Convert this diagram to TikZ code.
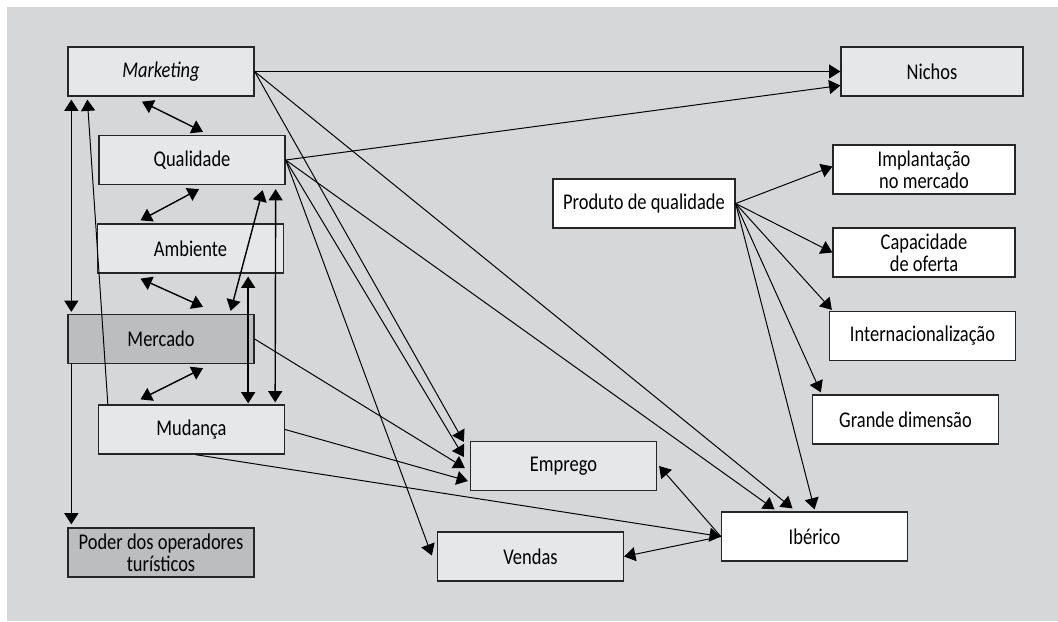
\documentclass[tikz,border=0pt]{standalone}
\usepackage{fontspec}
\setmainfont[FakeStretch=0.82]{Carlito}
\usetikzlibrary{arrows.meta}

\definecolor{cinzafundo}{HTML}{D6D7D9}
\definecolor{cinzaclaro}{HTML}{E6E7E8}
\definecolor{cinzaescuro}{HTML}{BCBDBF}

\tikzset{
  caixa/.style={draw=black!85, line width=0.9pt, minimum width=4.65cm, minimum height=1.225cm,
    inner sep=0pt, align=center, font=\fontsize{16}{15.5}\selectfont},
  clara/.style={caixa, fill=cinzaclaro},
  escura/.style={caixa, fill=cinzaescuro},
  branca/.style={caixa, fill=white},
  estreita/.style={minimum width=4.55cm},
  seta/.style={-{Triangle[length=8pt,width=10pt]}, line width=0.7pt},
  dupla/.style={{Triangle[length=8pt,width=10pt]}-{Triangle[length=8pt,width=10pt]}, line width=1pt}
}

\begin{document}
\begin{tikzpicture}[x=0.025cm, y=-0.025cm]
  \useasboundingbox (0,0) rectangle (1058,621);
  \fill[cinzafundo] (7,7) rectangle (1058,621);

  \node[clara] (mkt) at (161,71.5) {\itshape Marketing};
  \node[clara] (qual) at (192,160) {Qualidade};
  \node[clara] (amb) at (190.5,248.5) {Ambiente};
  \node[escura] (merc) at (161,339) {Mercado};
  \node[clara] (mud) at (191.5,429.5) {Mudança};
  \node[escura] (poder) at (161,552.5) {Poder dos operadores\\turísticos};
  \node[clara] (emp) at (563.5,466) {Emprego};
  \node[clara] (vend) at (530.5,556.5) {Vendas};
  \node[branca] (iber) at (814.5,536.5) {Ibérico};
  \node[clara, estreita] (nichos) at (932,71.5) {Nichos};
  \node[branca, estreita] (prod) at (644,203.5) {Produto de qualidade};
  \node[branca, estreita] (impl) at (924,169.5) {Implantação\\no mercado};
  \node[branca, estreita] (capac) at (924,252.5) {Capacidade\\de oferta};
  \node[branca] (inter) at (922.5,336) {Internacionalização};
  \node[branca] (grande) at (905.5,419.5) {Grande dimensão};

  \draw[dupla] ([shift={(-19,5)}]mkt.south) -- ([shift={(11,-3)}]qual.north);
  \draw[dupla] ([shift={(7,4)}]qual.south) -- ([shift={(-50,-3)}]amb.north);
  \draw[dupla] ([shift={(-50,5)}]amb.south) -- ([shift={(42,-7)}]merc.north);
  \draw[dupla] ([shift={(42,4)}]merc.south) -- ([shift={(-51,-5)}]mud.north);
  \draw[dupla] ([shift={(4,3)}]mkt.south west) -- ([shift={(4,-2)}]merc.north west);
  \draw[seta] ([shift={(10,0)}]mud.north west) -- ([shift={(20,3)}]mkt.south west);
  \draw[seta, line width=1pt] ([shift={(4,0)}]merc.south west) -- ([shift={(4,-3)}]poder.north west);
  \draw[dupla] ([shift={(-24,-3)}]merc.north east) -- ([shift={(-23,5)}]qual.south east);
  \draw[dupla] ([shift={(-36,3)}]amb.south east) -- ([shift={(-37,-1)}]mud.north east);
  \draw[dupla] ([shift={(-10,4)}]qual.south east) -- ([shift={(-10,-2)}]mud.north east);

  \draw[seta] (mkt.east) -- (nichos.west);
  \draw[seta] (qual.east) -- ([shift={(0,14)}]nichos.west);
  \draw[seta] (mkt.east) -- ([shift={(-6,1)}]emp.north west);
  \draw[seta] (qual.east) -- ([shift={(-6,-9)}]emp.west);
  \draw[seta] (merc.east) -- ([shift={(-5,2)}]emp.west);
  \draw[seta] (mud.east) -- ([shift={(-2,15)}]emp.west);
  \draw[seta] (qual.east) -- ([shift={(-5,-1)}]vend.west);
  \draw[seta] (qual.east) -- ([shift={(-40,-2)}]iber.north);
  \draw[seta] (mkt.east) -- ([shift={(-22,-3)}]iber.north);
  \draw[seta] (prod.east) -- ([shift={(0,-2)}]iber.north);
  \draw[seta] ([shift={(4,0)}]mud.south) -- (iber.west);
  \draw[seta] (iber.west) -- (vend.east);
  \draw[seta] (iber.west) -- ([shift={(2,0)}]emp.east);

  \draw[seta] (prod.east) -- ([shift={(0,-3)}]impl.west);
  \draw[seta] (prod.east) -- (capac.west);
  \draw[seta] (prod.east) -- ([shift={(3,-1)}]inter.north west);
  \draw[seta] (prod.east) -- ([shift={(9,-2)}]grande.north west);
\end{tikzpicture}
\end{document}
